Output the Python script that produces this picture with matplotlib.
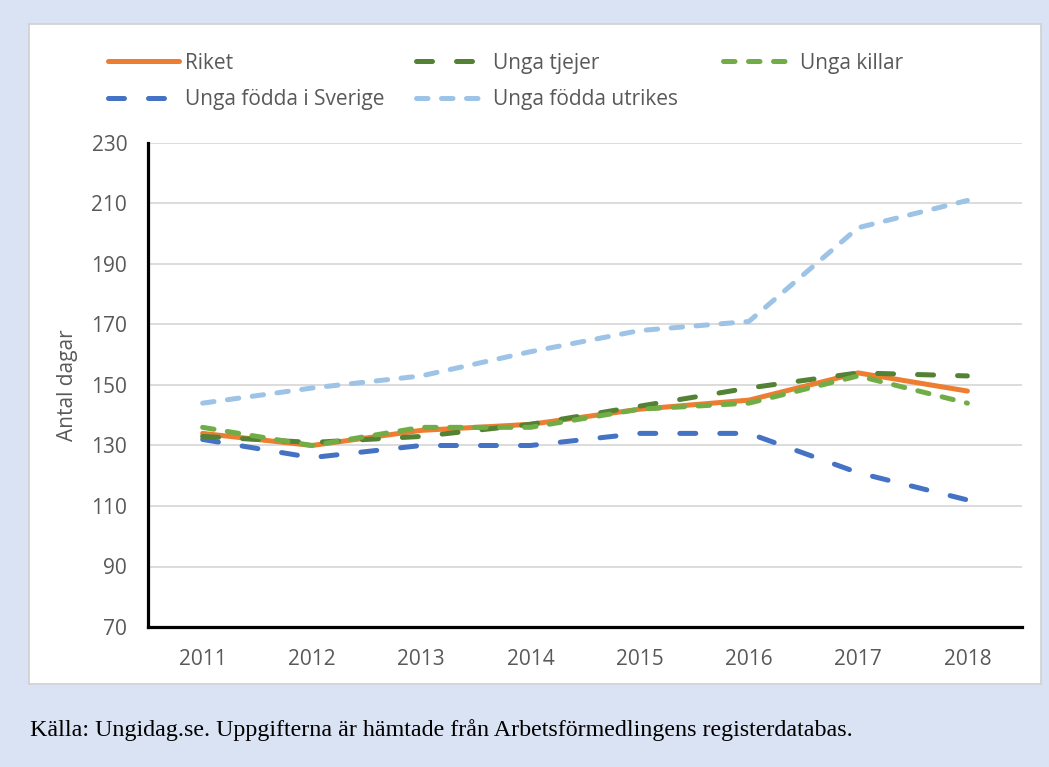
import matplotlib
matplotlib.use("Agg")
import matplotlib.pyplot as plt
from matplotlib.patches import Rectangle

years = ["2011", "2012", "2013", "2014", "2015", "2016", "2017", "2018"]
riket = [134, 130, 135, 137, 142, 145, 154, 148]
unga_tjejer = [133, 131, 133, 137, 143, 149, 154, 153]
unga_killar = [136, 130, 136, 136, 142, 144, 153, 144]
fodda_sverige = [132, 126, 130, 130, 134, 134, 121, 112]
fodda_utrikes = [144, 149, 153, 161, 168, 171, 202, 211]
yticks = [70, 90, 110, 130, 150, 170, 190, 210, 230]

W, H = 1049, 767
fig = plt.figure(figsize=(W / 100, H / 100), dpi=100)
fig.patch.set_facecolor("#dae3f3")

# white chart panel
fig.patches.append(Rectangle((29 / W, 1 - 684 / H), (1041 - 29) / W, (684 - 24) / H,
                             transform=fig.transFigure, facecolor="white",
                             edgecolor="#d0d0d0", lw=1.2, zorder=-5))

ax = fig.add_axes([148 / W, 1 - 627 / H, (1022 - 148) / W, (627 - 143) / H])
ax.set_zorder(2)
ax.set_facecolor("none")
x = list(range(len(years)))
lw = 3.6
tc = "#595959"
fs = 15
long_d = (3.2, 4.8)
short_d = (2.3, 2.7)

l_sv, = ax.plot(x, fodda_sverige, color="#4472c4", lw=lw, dashes=long_d,
                dash_capstyle="round", label="Unga födda i Sverige", zorder=3)
l_ut, = ax.plot(x, fodda_utrikes, color="#9dc3e6", lw=lw, dashes=short_d,
                dash_capstyle="round", label="Unga födda utrikes", zorder=3)
l_ri, = ax.plot(x, riket, color="#ed7d31", lw=lw, solid_capstyle="round",
                label="Riket", zorder=4)
l_tj, = ax.plot(x, unga_tjejer, color="#548235", lw=lw, dashes=long_d,
                dash_capstyle="round", label="Unga tjejer", zorder=5)
l_ki, = ax.plot(x, unga_killar, color="#70ad47", lw=lw, dashes=short_d,
                dash_capstyle="round", label="Unga killar", zorder=6)

ax.set_xlim(-0.5, len(years) - 0.5)
ax.set_ylim(70, 230)
ax.set_yticks(yticks)
ax.set_xticks(x)
ax.set_xticklabels(years)
ax.grid(axis="y", color="#d9d9d9", lw=1.3, zorder=0)
ax.set_axisbelow(True)
for s in ["top", "right"]:
    ax.spines[s].set_visible(False)
for s in ["left", "bottom"]:
    ax.spines[s].set_color("black")
    ax.spines[s].set_linewidth(2.3)
    ax.spines[s].set_zorder(7)
ax.tick_params(axis="both", length=0, labelsize=fs, labelcolor=tc, labelfontfamily="Open Sans")
ax.tick_params(axis="y", pad=15)
ax.tick_params(axis="x", pad=16)

fig.text(68 / W, 1 - 385 / H, "Antal dagar", rotation=90, ha="center", va="center",
         fontsize=fs, color=tc, family="Open Sans")

columns = [([l_ri, l_sv], 89), ([l_tj, l_ut], 397), ([l_ki], 704)]
for hs, xpx in columns:
    leg = fig.legend(handles=hs, labels=[h.get_label() for h in hs], ncol=1,
                     loc="upper left", bbox_to_anchor=(xpx / W, 1 - 34 / H),
                     frameon=False, handlelength=3.4, handletextpad=0.3,
                     labelspacing=0.74,
                     prop={"family": "Open Sans", "size": fs})
    for t in leg.get_texts():
        t.set_color(tc)

fig.text(30 / W, 1 - 730 / H,
         "Källa: Ungidag.se. Uppgifterna är hämtade från Arbetsförmedlingens registerdatabas.",
         ha="left", va="center", fontsize=17.3, family="Liberation Serif", color="black")

fig.savefig("out.png", dpi=100, facecolor=fig.get_facecolor())
